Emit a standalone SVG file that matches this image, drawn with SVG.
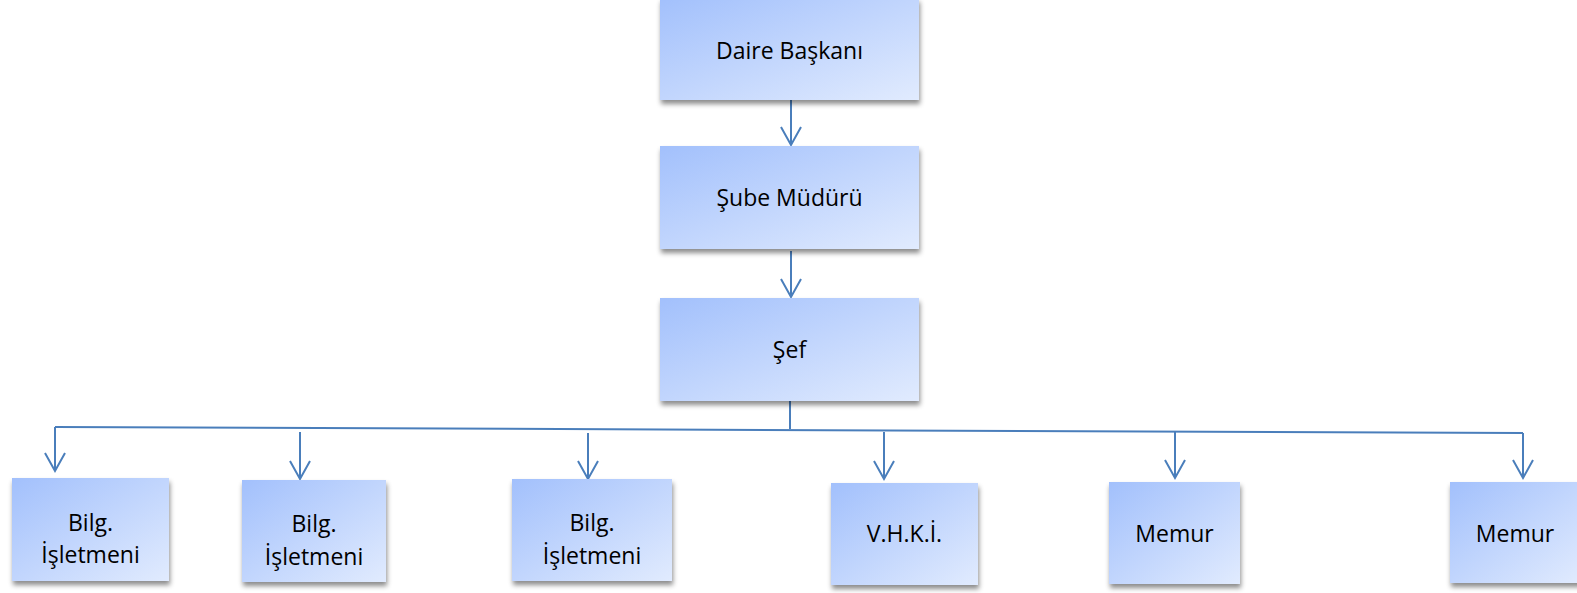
<svg xmlns="http://www.w3.org/2000/svg" width="1577" height="593" viewBox="0 0 1577 593">
<style>
.box{fill:url(#g);filter:url(#sh)}
.t{font-family:"Open Sans","Noto Sans",sans-serif;font-size:23px;fill:#000;text-anchor:middle}
.c{stroke:#4a7ebb;stroke-width:2;fill:none}
.a{marker-end:url(#ar)}
</style>
<defs>
<linearGradient id="g" x1="0" y1="0" x2="1" y2="1">
<stop offset="0" stop-color="#a2c0fc"/>
<stop offset="1" stop-color="#e1ebfe"/>
</linearGradient>
<filter id="sh" x="-10%" y="-10%" width="125%" height="130%">
<feGaussianBlur in="SourceAlpha" stdDeviation="2.5"/>
<feOffset dx="1" dy="4" result="b"/>
<feFlood flood-color="#000" flood-opacity="0.45"/>
<feComposite in2="b" operator="in"/>
<feMerge><feMergeNode/><feMergeNode in="SourceGraphic"/></feMerge>
</filter>
<marker id="ar" markerUnits="userSpaceOnUse" viewBox="-20 -12 24 24" refX="0" refY="0" markerWidth="24" markerHeight="24" orient="auto" overflow="visible">
<path d="M-18,-10 L0,0 L-18,10" fill="none" stroke="#4a7ebb" stroke-width="2"/>
</marker>
</defs>
<g id="connectors">
<line class="c a" x1="791" y1="98" x2="791" y2="145"/>
<line class="c a" x1="791" y1="251" x2="791" y2="297"/>
<line class="c" x1="790" y1="401" x2="790" y2="429"/>
<line class="c" x1="55" y1="427" x2="1523" y2="433"/>
<line class="c a" x1="55" y1="427" x2="55" y2="471"/>
<line class="c a" x1="300" y1="432" x2="300" y2="479"/>
<line class="c a" x1="588" y1="433" x2="588" y2="479"/>
<line class="c a" x1="884" y1="432" x2="884" y2="479"/>
<line class="c a" x1="1175" y1="432" x2="1175" y2="478"/>
<line class="c a" x1="1523" y1="433" x2="1523" y2="478"/>
</g>
<g id="daire"><rect class="box" x="660" y="-2" width="259" height="102"/><text class="t" x="789.5" y="59">Daire Başkanı</text></g>
<g id="sube"><rect class="box" x="660" y="146" width="259" height="103"/><text class="t" x="789.5" y="206">Şube Müdürü</text></g>
<g id="sef"><rect class="box" x="660" y="298" width="259" height="103"/><text class="t" x="789.5" y="358">Şef</text></g>
<g id="bilg1"><rect class="box" x="12" y="478" width="157" height="103"/><text class="t" x="90.5" y="531">Bilg.</text><text class="t" x="90.5" y="563">İşletmeni</text></g>
<g id="bilg2"><rect class="box" x="242" y="480" width="144" height="102"/><text class="t" x="314" y="532">Bilg.</text><text class="t" x="314" y="565">İşletmeni</text></g>
<g id="bilg3"><rect class="box" x="512" y="479" width="160" height="102"/><text class="t" x="592" y="531">Bilg.</text><text class="t" x="592" y="564">İşletmeni</text></g>
<g id="vhki"><rect class="box" x="831" y="483" width="147" height="102"/><text class="t" x="904.5" y="542">V.H.K.İ.</text></g>
<g id="memur1"><rect class="box" x="1109" y="482" width="131" height="102"/><text class="t" x="1174.5" y="542">Memur</text></g>
<g id="memur2"><rect class="box" x="1450" y="482" width="131" height="101"/><text class="t" x="1515" y="542">Memur</text></g>
</svg>
